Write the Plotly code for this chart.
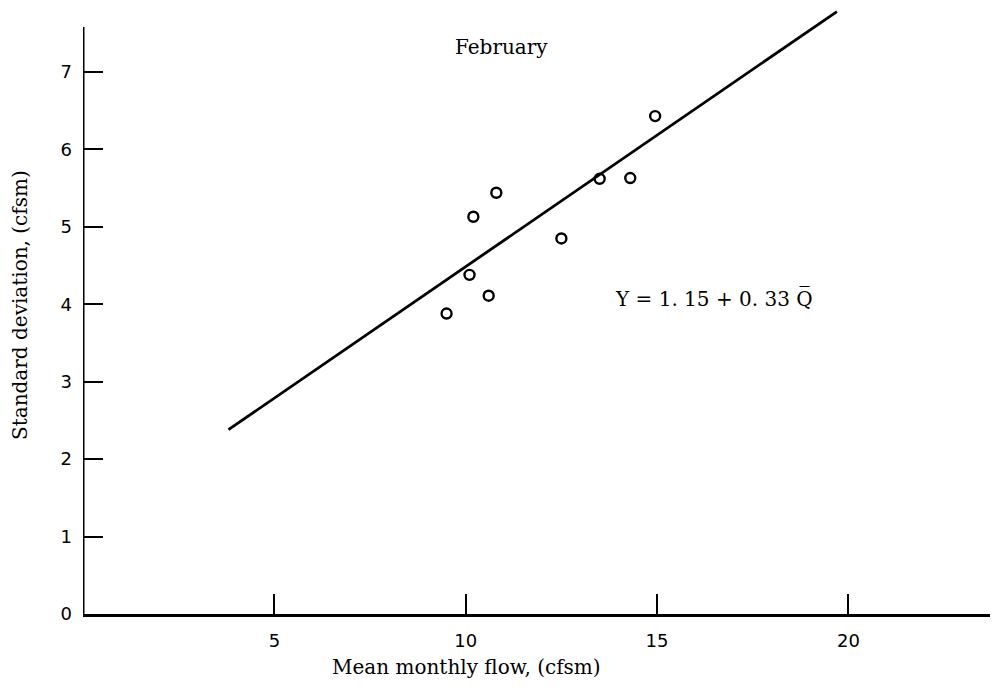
import plotly.graph_objects as go

# Data
mean_flow = [9.5, 10.1, 10.2, 10.6, 10.8, 12.5, 13.5, 14.3, 14.95]
std_dev = [3.88, 4.38, 5.13, 4.11, 5.44, 4.85, 5.62, 5.63, 6.43]
fit_x = [3.8, 19.7]
fit_y = [2.38, 7.78]
x_ticks = [5, 10, 15, 20]
y_ticks = [0, 1, 2, 3, 4, 5, 6, 7]
y_axis_top = 7.58

serif = "DejaVu Serif"
L, R, T, B = 83, 12, 10, 75
W, H = 1002, 689
pw, ph = W - L - R, H - T - B

fig = go.Figure()
fig.add_trace(go.Scatter(x=fit_x, y=fit_y, mode="lines",
                         line=dict(color="black", width=2.8), showlegend=False))
fig.add_trace(go.Scatter(x=mean_flow, y=std_dev, mode="markers",
                         marker=dict(symbol="circle-open", size=10, color="black",
                                     line=dict(width=2.4, color="black")),
                         showlegend=False))

# y-axis line stops below the top of the plotting area (regression line overshoots)
fig.add_shape(type="line", xref="x", yref="y", x0=0, x1=0, y0=0, y1=y_axis_top,
              line=dict(color="black", width=3))

tick_font = dict(family="DejaVu Sans", size=18, color="black")
fig.update_layout(
    width=W, height=H,
    margin=dict(l=L, r=R, t=T, b=B),
    paper_bgcolor="white", plot_bgcolor="white",
    font=dict(family=serif, size=20, color="black"),
    xaxis=dict(range=[0, 23.7], tickvals=x_ticks, ticks="inside", ticklen=20,
               tickwidth=2.2, tickcolor="black", showline=True, linewidth=3,
               linecolor="black", showgrid=False, zeroline=False,
               tickfont=tick_font, ticklabelstandoff=8),
    yaxis=dict(range=[0, 7.8], tickvals=y_ticks, ticks="inside", ticklen=20,
               tickwidth=2.2, tickcolor="black", showline=False,
               showgrid=False, zeroline=False,
               tickfont=tick_font, ticklabelstandoff=10),
)

def px_ann(text, x, y, angle=0):
    fig.add_annotation(text=text, xref="paper", yref="paper",
                       x=(x - L) / pw, y=1 - (y - T) / ph,
                       xanchor="center", yanchor="middle", showarrow=False,
                       textangle=angle, font=dict(family=serif, size=20, color="black"))

px_ann("February", 501, 47)
px_ann("Y = 1. 15 + 0. 33 Q\u0305", 714, 298)
px_ann("Mean monthly flow, (cfsm)", 466, 667)
px_ann("Standard deviation, (cfsm)", 20, 305, angle=-90)

fig.write_html("out.html")
